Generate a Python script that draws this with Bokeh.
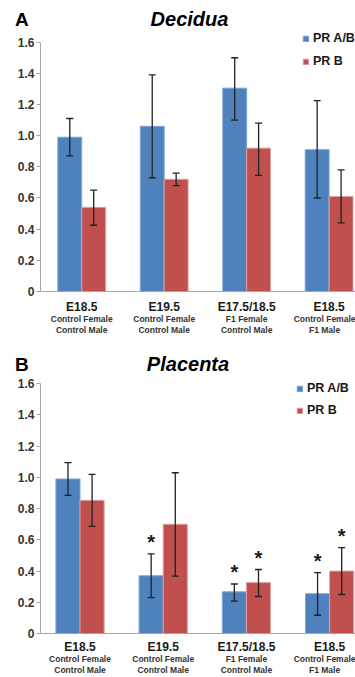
from bokeh.plotting import figure
from bokeh.models import (ColumnDataSource, Range1d, FixedTicker, Whisker, TeeHead,
                          Label, Legend, LegendItem, LinearAxis)
from bokeh.layouts import column
from bokeh.embed import file_html
from bokeh.resources import INLINE
from bokeh.core.properties import value

# ---------------- data ----------------
groups = ["E18.5", "E19.5", "E17.5/18.5", "E18.5"]
subgroups = ["Control Female\nControl Male", "Control Female\nControl Male",
             "F1 Female\nControl Male", "Control Female\nF1 Male"]
series = ["PR A/B", "PR B"]

dec_ab = [0.99, 1.06, 1.305, 0.91]
dec_ab_lo = [0.87, 0.73, 1.10, 0.60]
dec_ab_hi = [1.11, 1.39, 1.50, 1.225]
dec_b = [0.54, 0.72, 0.92, 0.61]
dec_b_lo = [0.425, 0.68, 0.745, 0.44]
dec_b_hi = [0.65, 0.76, 1.08, 0.78]

pla_ab = [0.99, 0.37, 0.267, 0.255]
pla_ab_lo = [0.885, 0.23, 0.207, 0.117]
pla_ab_hi = [1.095, 0.51, 0.317, 0.39]
pla_b = [0.853, 0.70, 0.326, 0.40]
pla_b_lo = [0.687, 0.367, 0.237, 0.25]
pla_b_hi = [1.02, 1.03, 0.41, 0.55]
pla_ab_sig = [False, True, True, True]
pla_b_sig = [False, False, True, True]

yticks = [0, 0.2, 0.4, 0.6, 0.8, 1.0, 1.2, 1.4, 1.6]
ytick_labels = ["0", "0.2", "0.4", "0.6", "0.8", "1.0", "1.2", "1.4", "1.6"]

BLUE = "#4F81BD"
RED = "#C0504D"
TXT = "#1a1a1a"
AX = "#a6a6a6"
FONT = "Liberation Sans"


def panel(letter, title, ab, ab_lo, ab_hi, b, b_lo, b_hi, ab_sig, b_sig,
          height, top_border, bottom_border, left_border, y_end, x_start, x_span,
          leg_xy, leg_spacing, letter_standoff, title_xy, s1, s2):
    p = figure(width=355, height=height, output_backend="svg", toolbar_location=None,
               x_range=Range1d(x_start, x_start + x_span), y_range=Range1d(0, y_end),
               min_border_left=left_border, min_border_right=0, min_border_top=top_border,
               min_border_bottom=bottom_border)
    p.outline_line_color = None
    p.grid.visible = False
    p.background_fill_color = "white"

    xs = [i + 0.5 for i in range(len(groups))]
    off = 0.145
    w = 0.29
    src_ab = ColumnDataSource(dict(x=[x - off for x in xs], top=ab, lo=ab_lo, hi=ab_hi))
    src_b = ColumnDataSource(dict(x=[x + off for x in xs], top=b, lo=b_lo, hi=b_hi))
    r1 = p.vbar(x="x", top="top", width=w, source=src_ab, fill_color=BLUE,
                line_color="#7fa6d8", line_width=1)
    r2 = p.vbar(x="x", top="top", width=w, source=src_b, fill_color=RED,
                line_color="#e0a0a0", line_width=1)
    for s in (src_ab, src_b):
        wk = Whisker(base="x", upper="hi", lower="lo", source=s, dimension="height",
                     line_color="#222222", line_width=1.3, level="annotation",
                     upper_head=TeeHead(size=7, line_color="#222222", line_width=1.3),
                     lower_head=TeeHead(size=7, line_color="#222222", line_width=1.3))
        p.add_layout(wk)

    # significance stars
    sx, sy = [], []
    for i in range(len(groups)):
        if ab_sig[i]:
            sx.append(xs[i] - off); sy.append(ab_hi[i])
        if b_sig[i]:
            sx.append(xs[i] + off); sy.append(b_hi[i])
    if sx:
        p.text(x=sx, y=sy, text=["*"] * len(sx), text_align="center",
               text_baseline="alphabetic", y_offset=-12, text_font=value(FONT),
               text_font_size="20px", text_font_style="bold", text_color=TXT)

    # y axis (the panel letter is carried as its horizontal axis label at the top)
    ya = p.yaxis[0]
    ya.ticker = FixedTicker(ticks=yticks)
    ya.major_label_overrides = {t: l for t, l in zip(yticks, ytick_labels)}
    ya.bounds = (0, 1.6)
    ya.axis_line_color = AX
    ya.major_tick_line_color = AX
    ya.major_tick_out = 4
    ya.major_tick_in = 0
    ya.minor_tick_line_color = None
    ya.minor_tick_out = 0
    ya.minor_tick_in = 0
    ya.major_label_standoff = 2
    ya.major_label_text_font = FONT
    ya.major_label_text_font_size = "12px"
    ya.major_label_text_font_style = "bold"
    ya.major_label_text_color = "#333333"
    ya.axis_label = "\n" + letter
    ya.axis_label_text_font = FONT
    ya.axis_label_text_font_size = "19px"
    ya.axis_label_text_font_style = "bold"
    ya.axis_label_text_color = "black"
    ya.axis_label_text_line_height = 1.0
    ya.axis_label_standoff = letter_standoff
    try:
        ya.axis_label_orientation = "horizontal"
    except Exception:
        pass
    try:
        ya.axis_label_align = "end"
    except Exception:
        pass

    # x axes
    xa = p.xaxis[0]
    xa.ticker = FixedTicker(ticks=xs)
    xa.major_label_overrides = {x: g for x, g in zip(xs, groups)}
    xa2 = LinearAxis(ticker=FixedTicker(ticks=xs),
                     major_label_overrides={x: s for x, s in zip(xs, subgroups)})
    p.add_layout(xa2, "below")
    for a in (xa, xa2):
        a.major_tick_line_color = None
        a.minor_tick_line_color = None
        a.major_tick_out = 0
        a.major_tick_in = 0
        a.minor_tick_out = 0
        a.minor_tick_in = 0
        a.major_label_text_font = FONT
        a.major_label_text_font_style = "bold"
    xa.axis_line_color = AX
    xa.major_label_standoff = s1
    xa.major_label_text_font_size = "12px"
    xa.major_label_text_color = TXT
    xa2.axis_line_color = None
    xa2.major_label_standoff = s2
    xa2.major_label_text_font_size = "8.5px"
    xa2.major_label_text_color = "#333333"
    xa2.major_label_text_line_height = 1.1

    # legend
    leg = Legend(items=[LegendItem(label=series[0], renderers=[r1]),
                        LegendItem(label=series[1], renderers=[r2])],
                 location=leg_xy, orientation="vertical",
                 glyph_width=7, glyph_height=7, label_standoff=4, spacing=leg_spacing,
                 padding=0, margin=0, label_height=20,
                 background_fill_alpha=0, border_line_color=None,
                 label_text_font=FONT, label_text_font_size="12.5px",
                 label_text_font_style="bold", label_text_color=TXT)
    p.add_layout(leg)

    p.add_layout(Label(x=title_xy[0], y=title_xy[1], x_units="screen", y_units="screen",
                       text=title, text_align="center", text_baseline="middle",
                       text_font=FONT, text_font_size="20px", text_font_style="bold italic",
                       text_color="black"))
    return p


pa = panel("A", "Decidua", dec_ab, dec_ab_lo, dec_ab_hi, dec_b, dec_b_lo, dec_b_hi,
           [False] * 4, [False] * 4,
           height=337, top_border=8, bottom_border=46, left_border=38, y_end=1.816,
           x_start=0.0, x_span=3.82, leg_xy=(262, 220), leg_spacing=3,
           letter_standoff=-14, title_xy=(149, 273), s1=8, s2=-3)
pb = panel("B", "Placenta", pla_ab, pla_ab_lo, pla_ab_hi, pla_b, pla_b_lo, pla_b_hi,
           pla_ab_sig, pla_b_sig,
           height=340, top_border=16, bottom_border=44, left_border=40, y_end=1.794,
           x_start=0.025, x_span=3.786, leg_xy=(256, 213), leg_spacing=2,
           letter_standoff=-14, title_xy=(147.5, 270), s1=6, s2=-3)

layout = column(pa, pb, spacing=0)
open("out.html", "w").write(file_html(layout, INLINE))
